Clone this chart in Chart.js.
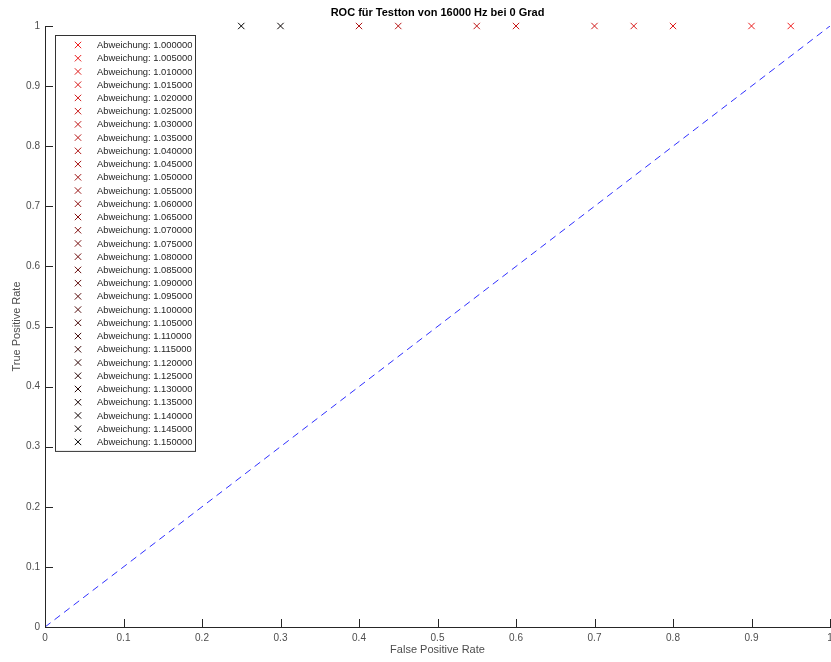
<!DOCTYPE html>
<html>
<head>
<meta charset="utf-8">
<script src="https://cdn.jsdelivr.net/npm/chart.js@4/dist/chart.umd.min.js"></script>
<style>
  html, body { margin:0; padding:0; overflow:hidden; background:#fff; }
</style>
</head>
<body>
<canvas id="roc" width="840" height="662"></canvas>
<script>
// ── data ─────────────────────────────────────────
const deviations = [
  '1.000000','1.005000','1.010000','1.015000','1.020000','1.025000','1.030000','1.035000',
  '1.040000','1.045000','1.050000','1.055000','1.060000','1.065000','1.070000','1.075000',
  '1.080000','1.085000','1.090000','1.095000','1.100000','1.105000','1.110000','1.115000',
  '1.120000','1.125000','1.130000','1.135000','1.140000','1.145000','1.150000'
];
// one operating point per deviation (null = no point in view)
const fprValues = [0.95, 0.9, 0.8, 0.75, 0.7, 0.6, 0.55, 0.45, 0.4,
  null, null, null, null, null, null, null, null, null, null, null,
  null, null, null, null, null, null, null, null, null, 0.3, 0.25];
const tprValues = [1, 1, 1, 1, 1, 1, 1, 1, 1,
  null, null, null, null, null, null, null, null, null, null, null,
  null, null, null, null, null, null, null, null, null, 1, 1];
const chanceX = [0, 1];
const chanceY = [0, 1];
const axisTicks = [0, 0.1, 0.2, 0.3, 0.4, 0.5, 0.6, 0.7, 0.8, 0.9, 1];

const titleText = 'ROC für Testton von 16000 Hz bei 0 Grad';
const xLabel = 'False Positive Rate';
const yLabel = 'True Positive Rate';

const FONT = '"Liberation Sans", Arial, Helvetica, sans-serif';
const AXIS = '#262626';
const TEXT = '#4d4d4d';

// red -> black across the deviation series
const colorAt = i => `rgb(${Math.round(240 * (1 - i / (deviations.length - 1)))},${Math.round(30 * (1 - i / (deviations.length - 1)))},${Math.round(30 * (1 - i / (deviations.length - 1)))})`;

const datasets = deviations.map((d, i) => ({
  label: 'Abweichung: ' + d,
  data: fprValues[i] == null ? [] : [{ x: fprValues[i], y: tprValues[i] }],
  showLine: false,
  pointStyle: 'crossRot',
  pointRadius: 4.5,
  pointBorderWidth: 1,
  borderColor: colorAt(i),
  backgroundColor: colorAt(i),
  clip: false
}));
datasets.push({
  label: 'chance',
  type: 'line',
  data: chanceX.map((x, i) => ({ x, y: chanceY[i] })),
  borderColor: '#2f2fff',
  borderWidth: 1,
  borderDash: [7, 5],
  pointRadius: 0,
  fill: false,
  noLegend: true
});

// inward tick marks, titles and the boxed legend
const matlabLook = {
  id: 'matlabLook',
  afterDraw(chart) {
    const { ctx, chartArea: a, scales } = chart;
    ctx.save();
    ctx.strokeStyle = AXIS;
    ctx.lineWidth = 1;
    const tl = 8;
    axisTicks.forEach(v => {
      const px = Math.round(scales.x.getPixelForValue(v)) + 0.5;
      ctx.beginPath(); ctx.moveTo(px, a.bottom); ctx.lineTo(px, a.bottom - tl); ctx.stroke();
      const py = Math.round(scales.y.getPixelForValue(v)) + 0.5;
      ctx.beginPath(); ctx.moveTo(a.left, py); ctx.lineTo(a.left + tl, py); ctx.stroke();
    });

    // titles
    ctx.fillStyle = '#000';
    ctx.font = `bold 11px ${FONT}`;
    ctx.textAlign = 'center';
    ctx.textBaseline = 'middle';
    ctx.fillText(titleText, (a.left + a.right) / 2, 13);
    ctx.fillStyle = TEXT;
    ctx.font = `11px ${FONT}`;
    ctx.fillText(xLabel, (a.left + a.right) / 2, 650);
    ctx.save();
    ctx.translate(17, (a.top + a.bottom) / 2);
    ctx.rotate(-Math.PI / 2);
    ctx.fillText(yLabel, 0, 0);
    ctx.restore();

    // legend
    const items = chart.data.datasets.filter(ds => !ds.noLegend);
    const bx = 55.5, by = 35.5, bw = 140, step = 13.23;
    const bh = (items.length - 1) * step + 19;
    ctx.fillStyle = '#fff';
    ctx.fillRect(bx, by, bw, bh);
    ctx.strokeStyle = '#333';
    ctx.strokeRect(bx, by, bw, bh);
    ctx.font = `9.4px ${FONT}`;
    ctx.textAlign = 'left';
    items.forEach((ds, i) => {
      const y = 45 + i * step;
      const r = 3.2;
      ctx.strokeStyle = ds.borderColor;
      ctx.beginPath();
      ctx.moveTo(78 - r, y - r); ctx.lineTo(78 + r, y + r);
      ctx.moveTo(78 - r, y + r); ctx.lineTo(78 + r, y - r);
      ctx.stroke();
      ctx.fillStyle = '#262626';
      ctx.fillText(ds.label, 97, y + 0.5);
    });
    ctx.restore();
  }
};

const tickOpts = {
  color: TEXT,
  font: { family: FONT, size: 10 },
  stepSize: 0.1,
  callback: v => String(Math.round(v * 10) / 10)
};

new Chart(document.getElementById('roc').getContext('2d'), {
  type: 'scatter',
  data: { datasets },
  options: {
    responsive: false,
    animation: false,
    layout: { padding: { top: 26, right: 10, left: 0, bottom: 0 } },
    plugins: { legend: { display: false }, tooltip: { enabled: false } },
    scales: {
      x: {
        type: 'linear', min: 0, max: 1,
        ticks: { ...tickOpts, padding: 5, maxRotation: 0 },
        grid: { display: false, drawTicks: false },
        border: { display: true, color: AXIS, width: 1 },
        afterFit: s => { s.height = 35; }
      },
      y: {
        type: 'linear', min: 0, max: 1,
        ticks: { ...tickOpts, padding: 5 },
        grid: { display: false, drawTicks: false },
        border: { display: true, color: AXIS, width: 1 },
        afterFit: s => { s.width = 45; }
      }
    }
  },
  plugins: [matlabLook]
});
</script>
</body>
</html>
